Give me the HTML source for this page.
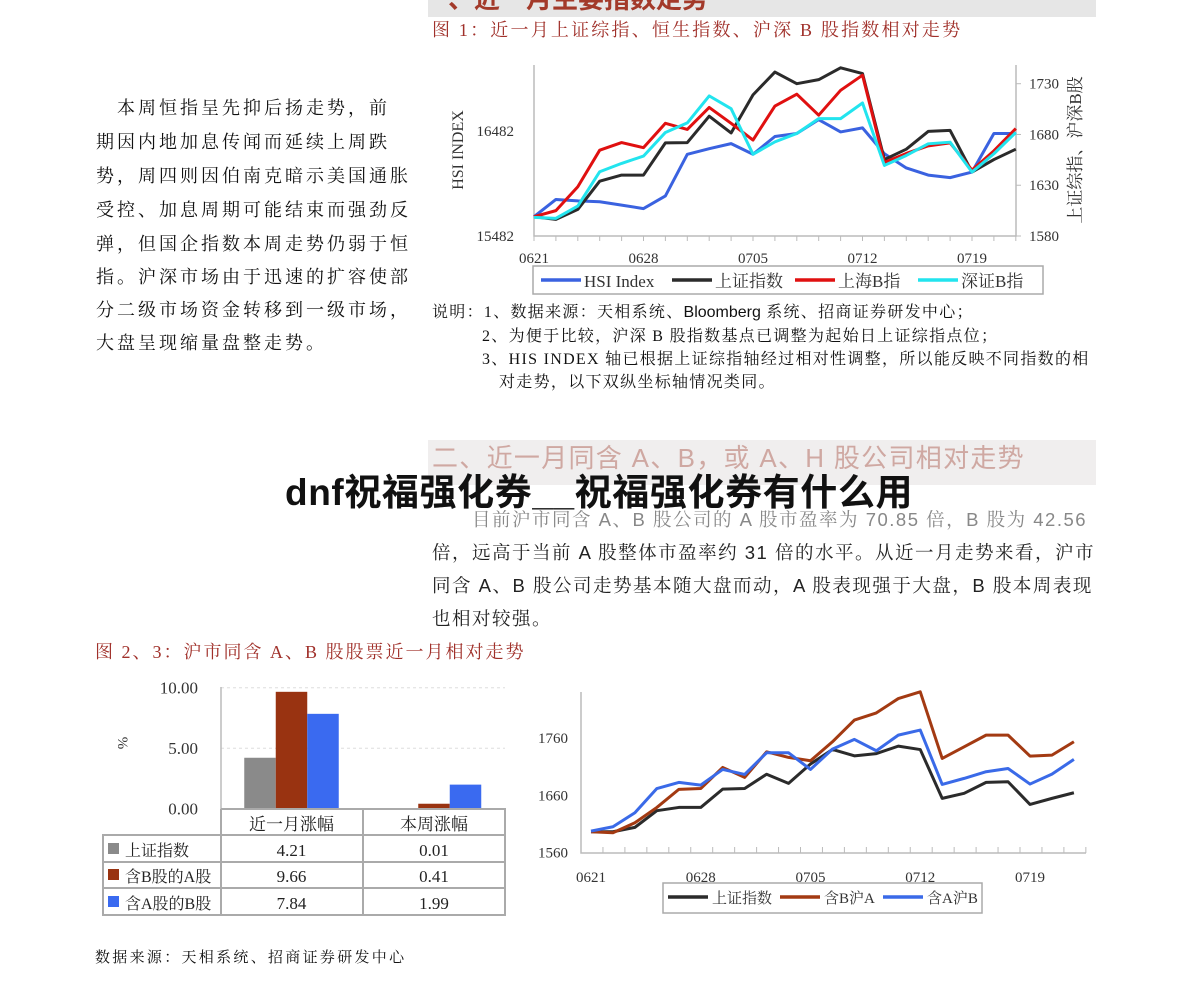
<!DOCTYPE html>
<html><head><meta charset="utf-8"><style>
body{margin:0;background:#fff;}
#page{position:relative;width:1190px;height:990px;overflow:hidden;background:#fff;font-family:"Liberation Serif","Noto Serif CJK SC",serif;}
.t{position:absolute;white-space:nowrap;line-height:1;}
.lp{position:absolute;left:96px;font-size:18px;letter-spacing:3px;color:#111;white-space:nowrap;line-height:1;}
.note{position:absolute;font-size:16px;letter-spacing:1.3px;color:#111;white-space:nowrap;line-height:1;}
.para{position:absolute;left:432px;font-size:18.5px;letter-spacing:1.5px;color:#222;white-space:nowrap;line-height:1;font-family:"Liberation Sans","Noto Serif CJK SC",serif;}
svg text{font-family:"Liberation Serif","Noto Serif CJK SC",serif;}
</style></head><body>
<div id="page">
<div style="position:absolute;left:428px;top:0;width:668px;height:17px;background:#e6e6e6;overflow:hidden;">
<div class="t" style="left:20px;top:-14px;font-size:26px;color:#a33a2a;font-weight:bold;font-family:'Liberation Sans','Noto Sans CJK SC',sans-serif;">、近一月主要指数走势</div></div>
<div class="t" style="left:432px;top:21px;font-size:18px;letter-spacing:2.2px;color:#a0302a;">图 1：近一月上证综指、恒生指数、沪深 B 股指数相对走势</div>

<div class="lp" style="top:99px;">　本周恒指呈先抑后扬走势，前</div>
<div class="lp" style="top:133px;">期因内地加息传闻而延续上周跌</div>
<div class="lp" style="top:167px;">势，周四则因伯南克暗示美国通胀</div>
<div class="lp" style="top:201px;">受控、加息周期可能结束而强劲反</div>
<div class="lp" style="top:235px;">弹，但国企指数本周走势仍弱于恒</div>
<div class="lp" style="top:268px;">指。沪深市场由于迅速的扩容使部</div>
<div class="lp" style="top:301px;">分二级市场资金转移到一级市场，</div>
<div class="lp" style="top:334px;">大盘呈现缩量盘整走势。</div>

<div class="note" style="left:432px;top:305px;">说明：1、数据来源：天相系统、<span style="font-family:'Liberation Sans';font-size:16px;letter-spacing:0">Bloomberg</span> 系统、招商证券研发中心；</div>
<div class="note" style="left:482px;top:329px;">2、为便于比较，沪深 B 股指数基点已调整为起始日上证综指点位；</div>
<div class="note" style="left:482px;top:352px;">3、HIS INDEX 轴已根据上证综指轴经过相对性调整，所以能反映不同指数的相</div>
<div class="note" style="left:499px;top:375px;">对走势，以下双纵坐标轴情况类同。</div>

<div style="position:absolute;left:428px;top:440px;width:668px;height:45px;background:#f0eeee;"></div>
<div class="t" style="left:432px;top:445px;font-size:26px;letter-spacing:1.3px;color:#cfa8a2;font-family:'Liberation Sans','Noto Sans CJK SC',sans-serif;">二、近一月同含 A、B，或 A、H 股公司相对走势</div>
<div class="t" style="left:285px;top:474px;font-size:37px;letter-spacing:0.6px;font-weight:bold;color:#111;font-family:'Liberation Sans','Noto Sans CJK SC',sans-serif;">dnf祝福强化券__祝福强化券有什么用</div>

<div class="para" style="left:472px;top:511px;color:#888;">目前沪市同含 A、B 股公司的 A 股市盈率为 70.85 倍，B 股为 42.56</div>
<div class="para" style="top:544px;">倍，远高于当前 A 股整体市盈率约 31 倍的水平。从近一月走势来看，沪市</div>
<div class="para" style="top:577px;">同含 A、B 股公司走势基本随大盘而动，A 股表现强于大盘，B 股本周表现</div>
<div class="para" style="top:610px;">也相对较强。</div>

<div class="t" style="left:95px;top:643px;font-size:18px;letter-spacing:2px;color:#a0302a;">图 2、3：沪市同含 A、B 股股票近一月相对走势</div>
<div class="t" style="left:95px;top:951px;font-size:15px;letter-spacing:2.3px;color:#111;">数据来源：天相系统、招商证券研发中心</div>

<svg id="svg" width="1190" height="990" style="position:absolute;left:0;top:0;"></svg>
</div>
<script>
// Chart 1 data (right-axis units)
const dates1 = ["0621","0628","0705","0712","0719"];
const hsi = [1599,1616,1614.6,1613.7,1610.4,1607,1619.5,1660.5,1666,1671,1660.5,1678,1681,1694.6,1682.5,1686.5,1661,1647,1640,1637.5,1643,1681,1681];
const szzs = [1599,1596.4,1606.2,1634,1640,1640,1671.7,1672,1698,1681.5,1719,1741.5,1730,1734,1745.7,1740,1655.3,1665.5,1683,1684,1643,1655.3,1665.5];
const shb = [1599,1605,1628.5,1664.5,1672,1667,1691,1685,1706.6,1691,1674.5,1708,1719.7,1699,1723.5,1738.4,1652.5,1661.3,1668.8,1671.7,1644.9,1663.9,1685.8];
const szb = [1598.4,1597.4,1609.5,1643.3,1651.5,1658.7,1682,1691.4,1718,1705.4,1660.5,1672.7,1681,1695.6,1695.6,1711,1649.5,1659.3,1670.8,1672.4,1643,1661,1682];
const rightTicks1 = [1580,1630,1680,1730];
const leftTicks1 = ["15482","16482"];
// Chart 3 data
const szzs3 = [1596.6,1596.6,1604.2,1633.3,1639,1639,1671,1672,1697,1681,1714.7,1740.2,1729,1733,1746,1740,1654.8,1663.6,1682.7,1683.8,1644.3,1654.8,1664.6];
const hanB = [1596.6,1594.9,1612.3,1639,1670.5,1672,1708.8,1691.4,1736,1726.3,1720.5,1753.6,1791.4,1804,1829,1840.8,1724.5,1744.8,1765.2,1765.2,1728.6,1730.3,1753.6];
const hanA = [1597.8,1605.3,1629.8,1672,1682.7,1678,1705.3,1696.6,1734.4,1734.4,1705.3,1740.8,1757.7,1737.9,1765.2,1774,1679.2,1689.7,1701.3,1707,1679.8,1697.2,1722.8];
const ticks3 = [1560,1660,1760];
// Chart 2 data
const barCats = ["近一月涨幅","本周涨幅"];
const barSeries = ["上证指数","含B股的A股","含A股的B股"];
const barMonth = [4.21,9.66,7.84];
const barWeek = [0.01,0.41,1.99];
const barTicks = [0,5,10];

const S = document.getElementById('svg');
const NS = 'http://www.w3.org/2000/svg';
function mk(tag, at, parent){const e=document.createElementNS(NS,tag);for(const k in at)e.setAttribute(k,at[k]);(parent||S).appendChild(e);return e;}
function txt(x,y,s,at,parent){const e=mk('text',Object.assign({x:x,y:y},at||{}),parent);e.textContent=s;return e;}

// ---------- Chart 1 ----------
const x1=i=>534+i*21.9, y1=v=>236-(v-1580)*1.0153;
const g1=mk('g',{});


mk('path',{d:'M534 65V236H1016V65',fill:'none',stroke:'#bbb','stroke-width':1.5},g1);
for(let i=0;i<=22;i++) mk('line',{x1:x1(i),x2:x1(i),y1:236,y2:241,stroke:'#bbb'},g1);
rightTicks1.forEach(v=>{mk('line',{x1:1016,x2:1021,y1:y1(v),y2:y1(v),stroke:'#bbb'},g1);const t=txt(1029,y1(v)+5,String(v),{'font-size':15,fill:'#333'},g1);});
leftTicks1.forEach((s,k)=>{const t=txt(514,[236,131][k]+5,s,{'font-size':15,fill:'#333','text-anchor':'end'},g1);});
dates1.forEach((d,k)=>{const t=txt(x1(k*5),263,d,{'font-size':15,fill:'#333','text-anchor':'middle'},g1);});
const ya=txt(0,0,'HSI  INDEX',{'font-size':16,fill:'#333','text-anchor':'middle',transform:'translate(463,150) rotate(-90)'},g1);

const yb=txt(0,0,'上证综指、沪深B股',{'font-size':17,fill:'#333','text-anchor':'middle',transform:'translate(1081,150) rotate(-90)'},g1);

const ser1=[[hsi,'#3a62e0','hsi-line'],[szzs,'#2b2b2b','shanghai-composite-line'],[shb,'#e01010','shanghai-b-line'],[szb,'#22e4ee','shenzhen-b-line']];
ser1.forEach(([d,c,n])=>{const p=mk('polyline',{points:d.map((v,i)=>x1(i)+','+y1(v)).join(' '),fill:'none',stroke:c,'stroke-width':3,'stroke-linejoin':'round'},g1);});
mk('rect',{x:533,y:266,width:510,height:28,fill:'#fff',stroke:'#aaa','stroke-width':1.5},g1);
[['HSI  Index','#3a62e0',541],['上证指数','#2b2b2b',672],['上海B指','#e01010',795],['深证B指','#22e4ee',918]].forEach(([s,c,x])=>{
 const g=mk('g',{},g1);
 mk('line',{x1:x,x2:x+40,y1:280,y2:280,stroke:c,'stroke-width':3.5},g);
 txt(x+43,287,s,{'font-size':17,fill:'#333'},g);
});

// ---------- Chart 3 ----------
const x3=i=>591+i*21.95, y3=v=>852.7-(v-1560)*0.573;
const g3=mk('g',{});


mk('path',{d:'M581 692V853H1086',fill:'none',stroke:'#bbb','stroke-width':1.5},g3);
for(let i=0;i<=23;i++) mk('line',{x1:581+i*21.95,x2:581+i*21.95,y1:847,y2:853,stroke:'#bbb'},g3);
ticks3.forEach(v=>{const t=txt(568,y3(v)+5,String(v),{'font-size':15,fill:'#333','text-anchor':'end'},g3);});
dates1.forEach((d,k)=>{const t=txt(x3(k*5),882,d,{'font-size':15,fill:'#333','text-anchor':'middle'},g3);});
[[szzs3,'#2b2b2b','shanghai-composite-line'],[hanB,'#a33a12','a-shares-with-b-line'],[hanA,'#3a6ae8','b-shares-with-a-line']].forEach(([d,c,n])=>{const p=mk('polyline',{points:d.map((v,i)=>x3(i)+','+y3(v)).join(' '),fill:'none',stroke:c,'stroke-width':3,'stroke-linejoin':'round'},g3);});
mk('rect',{x:663,y:883,width:319,height:30,fill:'#fff',stroke:'#aaa','stroke-width':1.5},g3);
[['上证指数','#2b2b2b',668],['含B沪A','#a33a12',780],['含A沪B','#3a6ae8',883]].forEach(([s,c,x])=>{
 const g=mk('g',{},g3);
 mk('line',{x1:x,x2:x+40,y1:897,y2:897,stroke:c,'stroke-width':3.5},g);
 txt(x+44,903,s,{'font-size':15,fill:'#333'},g);
});

// ---------- Chart 2 (bars + table) ----------
const yb2=v=>808.7-v*12.1;
const g2=mk('g',{});


barTicks.forEach(v=>{ if(v>0) mk('line',{x1:221,x2:505,y1:yb2(v),y2:yb2(v),stroke:'#ddd','stroke-dasharray':'3,3'},g2);
 const t=txt(198,yb2(v)+6,v.toFixed(2),{'font-size':17,fill:'#333','text-anchor':'end'},g2);});
mk('line',{x1:221,x2:221,y1:687,y2:809,stroke:'#bbb','stroke-width':1.5},g2);
const pc=txt(0,0,'%',{'font-size':15,fill:'#333','text-anchor':'middle',transform:'translate(118,743) rotate(90)'},g2);

const cols=['#8a8a8a','#993311','#3a6af0'];
const centers=[291.5,434];
[barMonth,barWeek].forEach((arr,gi)=>{arr.forEach((v,si)=>{
 const b=mk('rect',{x:centers[gi]-47.25+si*31.5,y:yb2(v),width:31.5,height:v*12.1,fill:cols[si]},g2);
 
 });});
const tb='#aaa';
mk('path',{d:'M221 809H505V915H103V835H505 M103 862H505 M103 888H505 M221 809V915 M363 809V915 M505 809V915',fill:'none',stroke:tb,'stroke-width':2},g2);
barCats.forEach((c,k)=>{const t=txt(centers[k],830,c,{'font-size':17,fill:'#222','text-anchor':'middle'},g2);});
barSeries.forEach((s,si)=>{const y=[856,882,909][si];
 mk('rect',{x:108,y:y-13,width:11,height:11,fill:cols[si]},g2);
 txt(125,y,s,{'font-size':16,fill:'#222'},g2);
 txt(centers[0],y,barMonth[si].toFixed(2),{'font-size':17,fill:'#222','text-anchor':'middle'},g2);
 txt(centers[1],y,barWeek[si].toFixed(2),{'font-size':17,fill:'#222','text-anchor':'middle'},g2);
});
</script>
</body></html>
